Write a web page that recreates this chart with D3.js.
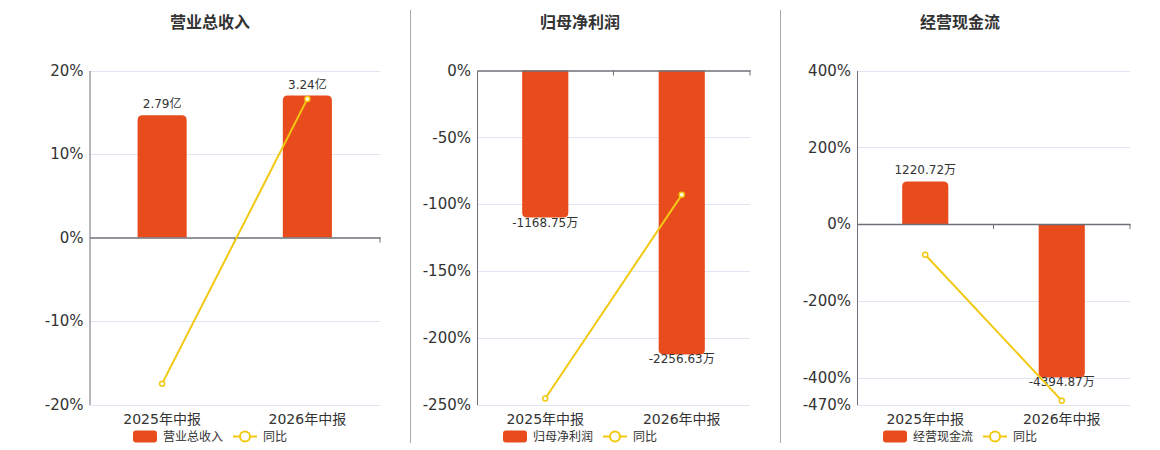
<!DOCTYPE html>
<html><head><meta charset="utf-8">
<script src="https://cdn.jsdelivr.net/npm/d3@7/dist/d3.min.js"></script>
<style>
body{margin:0;background:#fff;}
svg{display:block;font-family:"DejaVu Sans","Noto Sans CJK SC",sans-serif;}
</style></head>
<body><svg id="c" width="1160" height="450"></svg>
<script>
const categories = ["2025年中报", "2026年中报"];
const titles = ["营业总收入", "归母净利润", "经营现金流"];
const revenue = [2.79, 3.24];
const revenueLabels = ["2.79亿", "3.24亿"];
const revenueYoy = [-17.5, 16.6];
const netProfit = [-1168.75, -2256.63];
const netProfitLabels = ["-1168.75万", "-2256.63万"];
const netProfitYoy = [-245.5, -93.08];
const cashFlow = [1220.72, -4394.87];
const cashFlowLabels = ["1220.72万", "-4394.87万"];
const cashFlowYoy = [-79.8, -460.02];
const ticks1 = [20, 10, 0, -10, -20];
const ticks2 = [0, -50, -100, -150, -200, -250];
const ticks3 = [400, 200, 0, -200, -400, -470];

const BAR = "#e84c1c", LINE = "#f2c811", AXIS = "#6e7079", GRID = "#e0e6f1", TXT = "#333";
const svg = d3.select("#c");

const panels = [
  {title: titles[0], bars: revenue, labels: revenueLabels, yoy: revenueYoy, ticks: ticks1, x0: 89.5, x1: 380, tx: 210, legend: 133},
  {title: titles[1], bars: netProfit, labels: netProfitLabels, yoy: netProfitYoy, ticks: ticks2, x0: 477, x1: 750, tx: 580, legend: 503},
  {title: titles[2], bars: cashFlow, labels: cashFlowLabels, yoy: cashFlowYoy, ticks: ticks3, x0: 857, x1: 1130, tx: 960, legend: 883}
];
const yTop = 70.5, yBot = 404.5;

function roundedBar(x, w, yA, yB, r) {
  // yA = zero side, yB = far end; round far end corners
  const h = Math.abs(yB - yA);
  r = Math.min(r, h / 2, w / 2);
  const p = d3.path();
  if (yB < yA) {
    p.moveTo(x, yA); p.lineTo(x, yB + r); p.quadraticCurveTo(x, yB, x + r, yB);
    p.lineTo(x + w - r, yB); p.quadraticCurveTo(x + w, yB, x + w, yB + r);
    p.lineTo(x + w, yA); p.closePath();
  } else {
    p.moveTo(x, yA); p.lineTo(x, yB - r); p.quadraticCurveTo(x, yB, x + r, yB);
    p.lineTo(x + w - r, yB); p.quadraticCurveTo(x + w, yB, x + w, yB - r);
    p.lineTo(x + w, yA); p.closePath();
  }
  return p.toString();
}

panels.forEach((P, i) => {
  const g = svg.append("g");
  const y = d3.scaleLinear().domain([d3.min(P.ticks), d3.max(P.ticks)]).range([yBot, yTop]);
  const x = d3.scaleBand().domain(categories).range([P.x0, P.x1]);
  const y0 = y(0);
  // bar scale (hidden secondary axis sharing zero)
  const maxAbs = d3.max(P.bars, d => Math.abs(d));
  const big = P.bars.find(d => Math.abs(d) === maxAbs);
  const ext = big >= 0 ? y0 - yTop : yBot - y0;
  const M = maxAbs / 0.85;
  const yb = d3.scaleLinear().domain([-M, M]).range([y0 + ext, y0 - ext]);

  // title
  g.append("text").attr("x", P.tx).attr("y", 23).attr("text-anchor", "middle")
    .attr("dominant-baseline", "middle").attr("font-size", 16).attr("font-weight", "bold")
    .attr("fill", TXT).text(P.title);

  // grid
  g.selectAll(".grid").data(P.ticks.filter(t => t !== 0)).join("line")
    .attr("x1", P.x0).attr("x2", P.x1)
    .attr("y1", d => Math.round(y(d)) + 0.5).attr("y2", d => Math.round(y(d)) + 0.5)
    .attr("stroke", GRID).attr("stroke-width", 1);

  // y axis labels
  const yAxis = d3.axisLeft(y).tickValues(P.ticks).tickSize(0).tickPadding(6).tickFormat(d => d + "%");
  const ya = g.append("g").attr("transform", `translate(${P.x0},0)`).call(yAxis);
  ya.select(".domain").attr("stroke", AXIS);
  ya.selectAll("text").attr("font-size", 15).attr("fill", TXT).attr("font-family", "DejaVu Sans, sans-serif");

  // bars
  const bw = x.bandwidth() * 0.338;
  g.selectAll(".bar").data(P.bars).join("path")
    .attr("d", (d, j) => {
      const cx = x(categories[j]) + x.bandwidth() / 2;
      return roundedBar(cx - bw / 2, bw, y0, yb(d), 5);
    }).attr("fill", BAR);

  // x axis at zero
  const xAxis = d3.axisBottom(x).tickSize(0).tickFormat("");
  const xa = g.append("g").attr("transform", `translate(0,${y0})`).call(xAxis);
  xa.select(".domain").attr("stroke", AXIS).attr("stroke-width", 1.6);
  xa.selectAll(".tick").remove();
  g.selectAll(".xt").data([P.x0 + x.bandwidth(), P.x1]).join("line")
    .attr("x1", d => d).attr("x2", d => d).attr("y1", y0).attr("y2", y0 + 5)
    .attr("stroke", AXIS).attr("stroke-width", 1);

  // category labels
  g.selectAll(".cl").data(categories).join("text")
    .attr("x", d => x(d) + x.bandwidth() / 2).attr("y", 420)
    .attr("text-anchor", "middle").attr("dominant-baseline", "middle")
    .attr("font-size", 14).attr("fill", TXT).text(d => d);

  // bar value labels
  g.selectAll(".bl").data(P.bars).join("text")
    .attr("x", (d, j) => x(categories[j]) + x.bandwidth() / 2)
    .attr("y", d => d >= 0 ? yb(d) - 10.5 : yb(d) + 5.5)
    .attr("text-anchor", "middle").attr("dominant-baseline", "middle")
    .attr("font-size", 12).attr("fill", TXT).text((d, j) => P.labels[j]);

  // yoy line
  const line = d3.line().x((d, j) => x(categories[j]) + x.bandwidth() / 2).y(d => y(d));
  g.append("path").attr("d", line(P.yoy)).attr("fill", "none").attr("stroke", LINE).attr("stroke-width", 2);
  g.selectAll(".pt").data(P.yoy).join("circle")
    .attr("cx", (d, j) => x(categories[j]) + x.bandwidth() / 2).attr("cy", d => y(d))
    .attr("r", 2.5).attr("fill", "#fff").attr("stroke", LINE).attr("stroke-width", 1.5);

  // legend
  const lx = P.legend;
  g.append("rect").attr("x", lx).attr("y", 430.5).attr("width", 24).attr("height", 12).attr("rx", 3).attr("fill", BAR);
  g.append("text").attr("x", lx + 30).attr("y", 437).attr("dominant-baseline", "middle")
    .attr("font-size", 12).attr("fill", TXT).text(P.title);
  const l2 = lx + 100;
  g.append("line").attr("x1", l2).attr("x2", l2 + 24).attr("y1", 436.5).attr("y2", 436.5).attr("stroke", LINE).attr("stroke-width", 2);
  g.append("circle").attr("cx", l2 + 12).attr("cy", 436.5).attr("r", 5).attr("fill", "#fff").attr("stroke", LINE).attr("stroke-width", 2);
  g.append("text").attr("x", l2 + 30).attr("y", 437).attr("dominant-baseline", "middle")
    .attr("font-size", 12).attr("fill", TXT).text("同比");
});

// separators
svg.selectAll(".sep").data([410.5, 780.5]).join("line")
  .attr("x1", d => d).attr("x2", d => d).attr("y1", 10).attr("y2", 443)
  .attr("stroke", "#aaa").attr("stroke-width", 1);
</script></body></html>
